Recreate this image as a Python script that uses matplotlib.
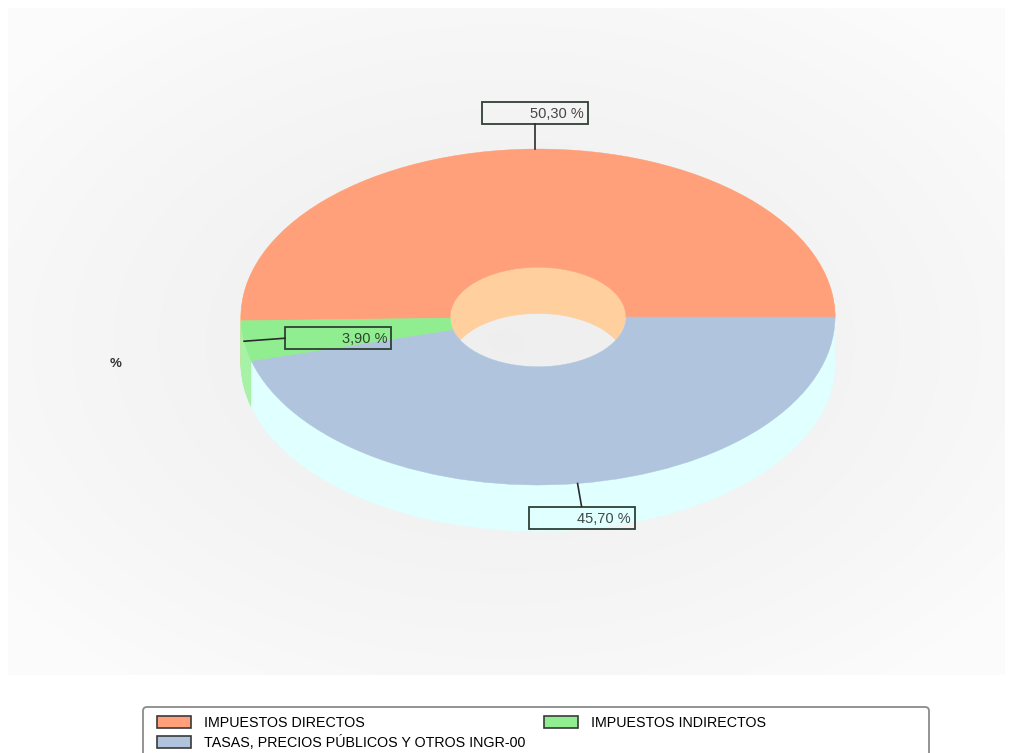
import matplotlib
matplotlib.use("Agg")
import matplotlib.pyplot as plt
import numpy as np
from matplotlib.patches import Rectangle, FancyBboxPatch, Patch

# data
categories = ["IMPUESTOS DIRECTOS", "IMPUESTOS INDIRECTOS",
              "TASAS, PRECIOS PÚBLICOS Y OTROS INGR-00"]
shares = [50.30, 3.90, 45.70]
top_colors = ["#FFA07A", "#90EE90", "#B0C4DE"]
side_colors = ["#FFCF9E", "#A8F2A8", "#E0FFFF"]

# geometry of the 3d ring (pixels)
W, H = 1015, 753
CX, CY = 538, 317
RX, RY = 297, 168
DEPTH = 46
HOLE = 0.296

FONT = ["Liberation Sans Narrow", "Liberation Sans", "DejaVu Sans"]

fig = plt.figure(figsize=(W / 100, H / 100), dpi=100)
fig.patch.set_facecolor("white")

# background with a soft grey vignette
bg = fig.add_axes([0, 0, 1, 1], zorder=0)
bg.set_xlim(0, W)
bg.set_ylim(H, 0)
bg.axis("off")
gx, gy = np.meshgrid(np.linspace(-1, 1, 200), np.linspace(-1, 1, 140))
rr = np.clip(np.sqrt(gx ** 2 + gy ** 2) / 1.3, 0, 1)
shade = 0.937 + 0.05 * rr ** 1.5
bg.imshow(np.dstack([shade, shade, shade]), extent=(8, 1005, 675, 8),
          aspect="auto", interpolation="bicubic")

# pie axes: unit circle stretched to the ellipse, plus room for the depth
d = DEPTH / RY
pie_ax = fig.add_axes([(CX - RX) / W, (H - (CY + RY + DEPTH)) / H,
                       2 * RX / W, (2 * RY + DEPTH) / H], zorder=1)


def ring(colors, off, lw):
    ws, _ = pie_ax.pie(shares, colors=colors, startangle=0, center=(0, -off),
                       wedgeprops=dict(width=1 - HOLE, linewidth=lw))
    for w in ws:
        w.set_edgecolor(w.get_facecolor())
    return ws


for off in np.linspace(d, 0.004, 45):
    ring(side_colors, off, 0.6)
wedges = ring(top_colors, 0, 0.3)

pie_ax.set_xlim(-1, 1)
pie_ax.set_ylim(-1 - d, 1)
pie_ax.set_aspect("auto")
pie_ax.axis("off")

# labels with leader lines
lab = fig.add_axes([0, 0, 1, 1], zorder=2)
lab.set_xlim(0, W)
lab.set_ylim(H, 0)
lab.axis("off")

leader = [(0, -25), (41, -3), (4, 23)]
box_align = [("center", "bottom"), ("left", "center"), ("center", "top")]
BW, BH = 106, 22

fracs = np.array(shares) / sum(shares)
edges = np.concatenate([[0], np.cumsum(fracs)]) * 360
for i, v in enumerate(shares):
    mid = np.radians((edges[i] + edges[i + 1]) / 2)
    ax0 = CX + RX * np.cos(mid)
    ay0 = CY - RY * np.sin(mid)
    ex, ey = ax0 + leader[i][0], ay0 + leader[i][1]
    lab.plot([ax0, ex], [ay0, ey], color="#2b2b2b", lw=1.2)
    ha, va = box_align[i]
    bx = ex - BW / 2 if ha == "center" else ex
    by = {"bottom": ey - BH, "center": ey - BH / 2, "top": ey}[va]
    lab.add_patch(Rectangle((bx, by), BW, BH, fill=False,
                            edgecolor="#2f3f35", lw=1.3))
    lab.text(bx + BW - 4, by + BH / 2 + 1, f"{v:.2f}".replace(".", ",") + " %",
             ha="right", va="center", fontsize=10.5, family=FONT,
             color="#1a1a1a", alpha=0.8)

lab.text(116, 364, "%", ha="center", va="center", fontsize=9.5,
         fontweight="bold", color="#333333", family=FONT)

# legend
lab.add_patch(FancyBboxPatch((143, 707), 786, 60,
                             boxstyle="round,pad=0,rounding_size=4",
                             facecolor="white", edgecolor="#8a8a8a", lw=1.3))
handles = [Patch(facecolor=top_colors[k], edgecolor="#3a3a3a", lw=1.2,
                 label=categories[k]) for k in (0, 2, 1)]
fig.legend(handles=handles, ncol=2, frameon=False,
           loc="upper left", bbox_to_anchor=(147 / W, 1 - 706 / H),
           prop=dict(family=FONT, size=10.3),
           handlelength=2.35, handleheight=0.85, handletextpad=0.95,
           labelspacing=0.35, columnspacing=1.3, borderpad=0.2)

fig.savefig("out.png", dpi=100)
